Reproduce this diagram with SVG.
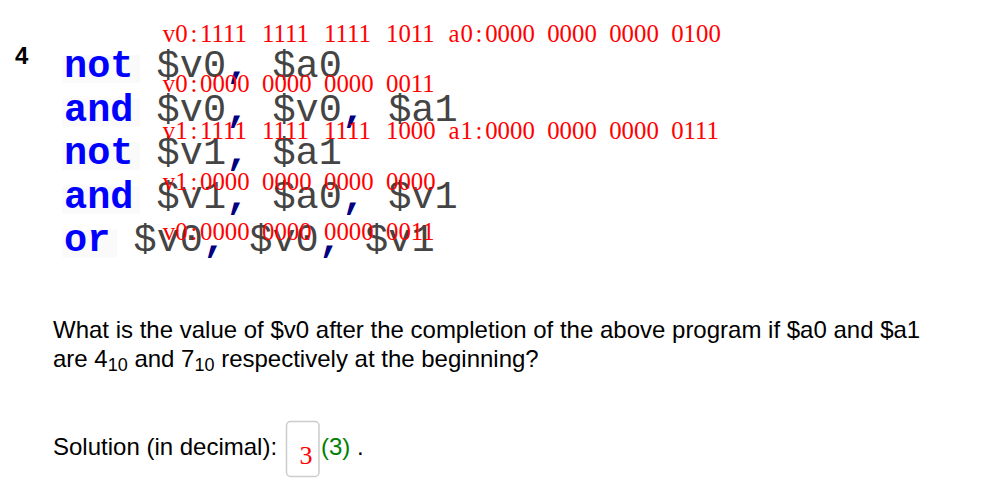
<svg xmlns="http://www.w3.org/2000/svg" width="985" height="503" viewBox="0 0 985 503">
<style>
.code{font-family:"Liberation Mono","Courier New",monospace;font-size:38.6px}
.kw{fill:#0000ff;font-weight:bold}
.op{fill:#444444}
.cm{fill:#000080;font-weight:bold}
.r{font-family:"Liberation Serif","Times New Roman",serif;font-size:24.8px;fill:#ff0000}
.t{font-family:"Liberation Sans",Arial,sans-serif;font-size:24px;fill:#000000}
.kbg{fill:#fafafa}
</style>
<rect width="985" height="503" fill="#ffffff"/>
<g id="number">
<text class="t" x="15" y="64" font-weight="bold">4</text>
</g>
<g id="code">
<rect class="kbg" x="62" y="55" width="78" height="28"/>
<rect class="kbg" x="62" y="98.6" width="78" height="28"/>
<rect class="kbg" x="62" y="142.2" width="78" height="28"/>
<rect class="kbg" x="62" y="185.8" width="78" height="28"/>
<rect class="kbg" x="62" y="229.4" width="55" height="28"/>
<text class="code" y="77"><tspan class="kw" x="64">not</tspan><tspan class="op" x="156.6">$v0</tspan><tspan class="cm" x="226.1">,</tspan><tspan class="op" x="272.4">$a0</tspan></text>
<text class="code" y="120.6"><tspan class="kw" x="64">and</tspan><tspan class="op" x="156.6">$v0</tspan><tspan class="cm" x="226.1">,</tspan><tspan class="op" x="272.4">$v0</tspan><tspan class="cm" x="341.9">,</tspan><tspan class="op" x="388.2">$a1</tspan></text>
<text class="code" y="164.2"><tspan class="kw" x="64">not</tspan><tspan class="op" x="156.6">$v1</tspan><tspan class="cm" x="226.1">,</tspan><tspan class="op" x="272.4">$a1</tspan></text>
<text class="code" y="207.8"><tspan class="kw" x="64">and</tspan><tspan class="op" x="156.6">$v1</tspan><tspan class="cm" x="226.1">,</tspan><tspan class="op" x="272.4">$a0</tspan><tspan class="cm" x="341.9">,</tspan><tspan class="op" x="388.2">$v1</tspan></text>
<text class="code" y="251.4"><tspan class="kw" x="64">or</tspan><tspan class="op" x="133.5">$v0</tspan><tspan class="cm" x="203">,</tspan><tspan class="op" x="249.3">$v0</tspan><tspan class="cm" x="318.8">,</tspan><tspan class="op" x="365.1">$v1</tspan></text>
</g>
<g id="annotations">
<text class="r" y="41.5"><tspan x="162.8 175.2 190.4">v0:</tspan><tspan x="200">1111</tspan><tspan x="262">1111</tspan><tspan x="324">1111</tspan><tspan x="386">1011</tspan><tspan x="448.5 460.4 475.5">a0:</tspan><tspan x="485.2">0000</tspan><tspan x="547.2">0000</tspan><tspan x="609.2">0000</tspan><tspan x="671.2">0100</tspan></text>
<text class="r" y="91.5"><tspan x="162.8 175.2 190.4">v0:</tspan><tspan x="200">0000</tspan><tspan x="262">0000</tspan><tspan x="324">0000</tspan><tspan x="386">0011</tspan></text>
<text class="r" y="139"><tspan x="162.8 175.2 190.4">v1:</tspan><tspan x="200">1111</tspan><tspan x="262">1111</tspan><tspan x="324">1111</tspan><tspan x="386">1000</tspan><tspan x="448.5 460.4 475.5">a1:</tspan><tspan x="485.2">0000</tspan><tspan x="547.2">0000</tspan><tspan x="609.2">0000</tspan><tspan x="671.2">0111</tspan></text>
<text class="r" y="190"><tspan x="162.8 175.2 190.4">v1:</tspan><tspan x="200">0000</tspan><tspan x="262">0000</tspan><tspan x="324">0000</tspan><tspan x="386">0000</tspan></text>
<text class="r" y="239.5"><tspan x="162.8 175.2 190.4">v0:</tspan><tspan x="200">0000</tspan><tspan x="262">0000</tspan><tspan x="324">0000</tspan><tspan x="386">0011</tspan></text>
</g>
<g id="question">
<text class="t" x="53" y="338">What is the value of $v0 after the completion of the above program if $a0 and $a1</text>
<text class="t" x="53" y="367">are 4<tspan font-size="18" y="370.5">10</tspan><tspan y="367"> and 7</tspan><tspan font-size="18" y="370.5">10</tspan><tspan y="367"> respectively at the beginning?</tspan></text>
</g>
<g id="solution">
<text class="t" x="53" y="455">Solution (in decimal):</text>
<rect x="286.5" y="421.5" width="32.5" height="55" rx="4" ry="4" fill="#ffffff" stroke="#cccccc" stroke-width="1.5"/>
<text x="299.5" y="464" font-family="Liberation Serif,'Times New Roman',serif" font-size="26" fill="#ff0000">3</text>
<text class="t" x="321" y="455"><tspan fill="#008000">(3)</tspan><tspan> .</tspan></text>
</g>
</svg>
